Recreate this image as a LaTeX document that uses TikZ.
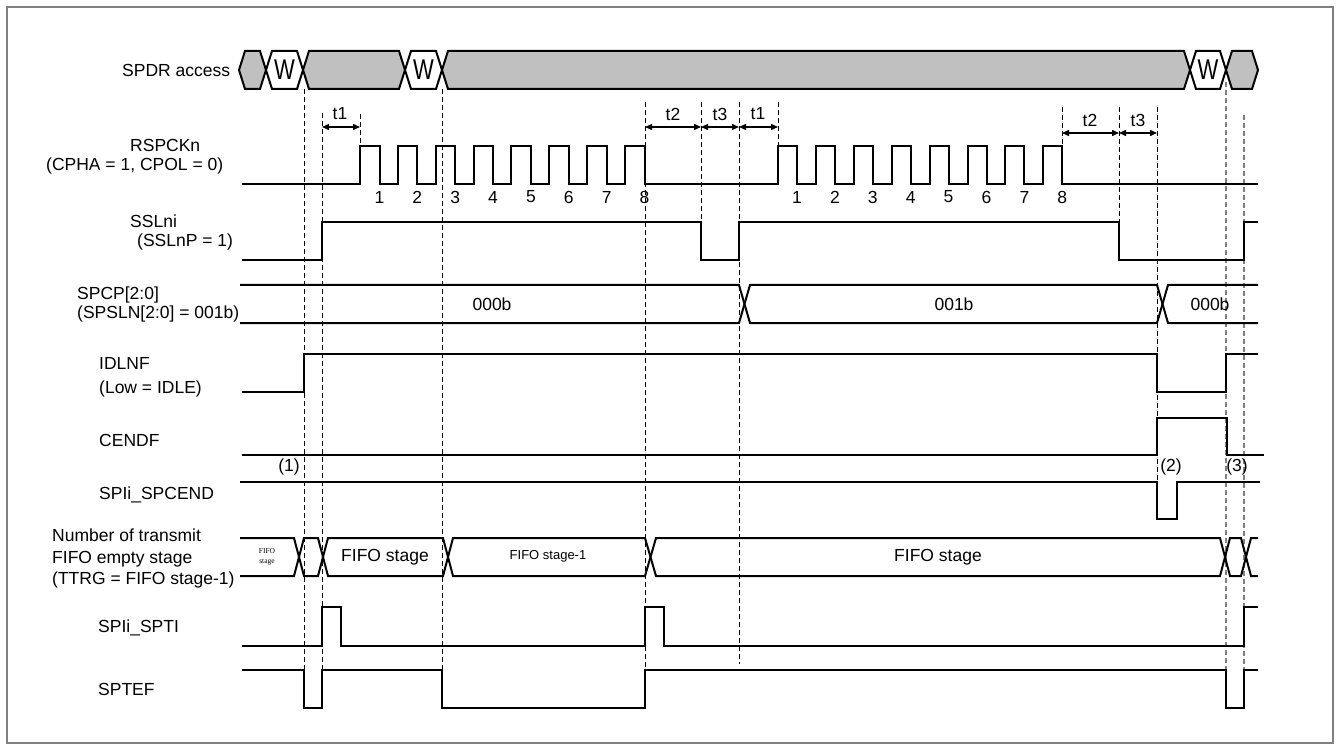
\documentclass[tikz,border=0pt]{standalone}
\usepackage{fontspec}
\setmainfont{Liberation Sans}
\newfontfamily\tinyserif{Liberation Serif}
\usetikzlibrary{arrows.meta}
\definecolor{busgray}{RGB}{192,192,192}
\definecolor{framegray}{RGB}{128,128,128}
% hexagon bus segment: left x, right x, top y, bottom y, slant, fill
\newcommand\tdhex[6]{\filldraw[sig,fill=#6] (#1,{(#3+#4)/2}) -- ({#1+#5},#3) -- ({#2-#5},#3) -- (#2,{(#3+#4)/2}) -- ({#2-#5},#4) -- ({#1+#5},#4) -- cycle;}
\begin{document}
\begin{tikzpicture}[x=1pt,y=-1pt,
  sig/.style={line width=2pt, line join=miter},
  guide/.style={line width=0.9pt, dash pattern=on 5pt off 3pt},
  gguide/.style={guide, draw=framegray, line width=1.1pt},
  tarrow/.style={line width=1.4pt, {Triangle[length=7pt,width=6pt]}-{Triangle[length=7pt,width=6pt]}},
  lbl/.style={font=\fontsize{17.5}{21}\selectfont, inner sep=0pt, anchor=base west},
  ctr/.style={font=\fontsize{17.5}{21}\selectfont, inner sep=0pt},
]
\useasboundingbox (0,0) rectangle (1341,751);
\draw[framegray, line width=1.2pt] (7,7) rectangle (1333,743);

% ---------- guide lines ----------
\draw[guide] (304,89) -- (304,670);
\draw[guide] (322,113) -- (322,670);
\draw[guide] (360,114) -- (360,146);
\draw[guide] (442,89) -- (442,670);
\draw[guide] (645,102) -- (645,670);
\draw[guide] (701,102) -- (701,222);
\draw[guide] (739,102) -- (739,664);
\draw[guide] (778,102) -- (778,146);
\draw[guide] (1062,107) -- (1062,146);
\draw[guide] (1119,107) -- (1119,222);
\draw[guide] (1157,107) -- (1157,482);
\draw[gguide] (1226,82) -- (1226,670);
\draw[gguide] (1244,115) -- (1244,670);

% ---------- labels ----------
\node[lbl] (lspdr) at (122,76.3) {SPDR access};
\node[lbl] (lrsp) at (130,151.3) {RSPCKn};
\node[lbl] (lcpha) at (46,170.3) {(CPHA = 1, CPOL = 0)};
\node[lbl] (lssl) at (130,227.3) {SSLni};
\node[lbl] (lsslp) at (137,246.3) {(SSLnP = 1)};
\node[lbl] (lspcp) at (77,299.3) {SPCP[2:0]};
\node[lbl] (lspsln) at (77,318.3) {(SPSLN[2:0] = 001b)};
\node[lbl] (lidl) at (99,369.3) {IDLNF};
\node[lbl] (llow) at (99,393.3) {(Low = IDLE)};
\node[lbl] (lcend) at (99,446.3) {CENDF};
\node[lbl] (lspcend) at (99,499.3) {SPIi\_SPCEND};
\node[lbl] (lnum) at (52,541.3) {Number of transmit};
\node[lbl] (lfifo) at (52,563.3) {FIFO empty stage};
\node[lbl] (lttrg) at (52,584.3) {(TTRG = FIFO stage-1)};
\node[lbl] (lspti) at (98,632.3) {SPIi\_SPTI};
\node[lbl] (lsptef) at (98,695.3) {SPTEF};

% ---------- SPDR access ----------
\tdhex{239}{266}{51}{89}{6}{busgray}
\tdhex{266}{303}{51}{89}{6}{white}
\tdhex{303}{405}{51}{89}{6}{busgray}
\tdhex{405}{442}{51}{89}{6}{white}
\tdhex{442}{1190}{51}{89}{6}{busgray}
\tdhex{1190}{1226}{51}{89}{6}{white}
\tdhex{1226}{1258}{51}{89}{6}{busgray}
\foreach \x/\n in {284.5/w1,423.5/w2,1208/w3}
  \node[inner sep=0pt, font=\fontsize{22}{24}\selectfont] (\n) at (\x,70) {\scalebox{1}[1.3]{W}};

% ---------- time annotations ----------
\draw[tarrow] (322,127) -- (360,127);
\draw[tarrow] (645,127) -- (701,127);
\draw[tarrow] (701,127) -- (739,127);
\draw[tarrow] (739,127) -- (778,127);
\draw[tarrow] (1062,133) -- (1119,133);
\draw[tarrow] (1119,133) -- (1157,133);
\node[ctr] (ta1) at (340,114) {t1};
\node[ctr] (ta2) at (673,114) {t2};
\node[ctr] (ta3) at (720,114) {t3};
\node[ctr] (ta4) at (758,114) {t1};
\node[ctr] (ta5) at (1090,120) {t2};
\node[ctr] (ta6) at (1138,120) {t3};

% ---------- RSPCKn ----------
\draw[sig] (242,184)
  foreach \i in {0,...,7} { -- ({360+37.86*\i},184) -- ({360+37.86*\i},146) -- ({379.5+37.86*\i},146) -- ({379.5+37.86*\i},184) }
  foreach \i in {0,...,7} { -- ({778+37.9*\i},184) -- ({778+37.9*\i},146) -- ({797+37.9*\i},146) -- ({797+37.9*\i},184) }
  -- (1258,184);
\foreach \i in {1,...,8} {
  \node[ctr] (ca\i) at ({379.5+37.86*(\i-1)},197) {\i};
  \node[ctr] (cb\i) at ({797+37.9*(\i-1)},197) {\i};
}

% ---------- SSLni ----------
\draw[sig] (242,260) -- (322,260) -- (322,222) -- (701,222) -- (701,260) -- (739,260) -- (739,222)
  -- (1119,222) -- (1119,260) -- (1244,260) -- (1244,222) -- (1258,222);

% ---------- SPCP ----------
\draw[sig] (240,285) -- (739,285) -- (750,323) -- (1157,323) -- (1168,285) -- (1258,285);
\draw[sig] (240,323) -- (739,323) -- (750,285) -- (1157,285) -- (1168,323) -- (1258,323);
\node[ctr] (p0) at (492,304) {000b};
\node[ctr] (p1) at (954,304) {001b};
\node[ctr] (p2) at (1210,304) {000b};

% ---------- IDLNF ----------
\draw[sig] (242,392) -- (304,392) -- (304,354) -- (1157,354) -- (1157,392) -- (1226,392) -- (1226,354) -- (1258,354);

% ---------- CENDF ----------
\draw[sig] (242,455) -- (1157,455) -- (1157,418) -- (1227,418) -- (1227,455) -- (1264,455);
\node[ctr] (m1) at (289,467) {(1)};
\node[ctr] (m2) at (1171,467) {(2)};
\node[ctr] (m3) at (1237,467) {(3)};

% ---------- SPIi_SPCEND ----------
\draw[sig] (240,482) -- (1157,482) -- (1157,519) -- (1177,519) -- (1177,482) -- (1260,482);

% ---------- FIFO empty stage ----------
\draw[sig] (240,538) -- (294,538) -- (304,576) -- (318,576) -- (328,538) -- (443,538) -- (453,576)
  -- (645,576) -- (656,538) -- (1220,538) -- (1230,576) -- (1241,576) -- (1251,538) -- (1258,538);
\draw[sig] (240,576) -- (294,576) -- (304,538) -- (318,538) -- (328,576) -- (443,576) -- (453,538)
  -- (645,538) -- (656,576) -- (1220,576) -- (1230,538) -- (1241,538) -- (1251,576) -- (1258,576);
\node[inner sep=0pt, align=center, font=\tinyserif\fontsize{7.5}{10}\selectfont] (f0) at (267,557) {FIFO\\stage};
\node[ctr] (f1) at (385,557) {FIFO stage};
\node[inner sep=0pt, font=\fontsize{13}{15}\selectfont] (f2) at (548,556) {FIFO stage-1};
\node[ctr] (f3) at (938,557) {FIFO stage};

% ---------- SPIi_SPTI ----------
\draw[sig] (242,646) -- (322,646) -- (322,607) -- (341,607) -- (341,646) -- (645,646) -- (645,607)
  -- (664,607) -- (664,646) -- (1244,646) -- (1244,607) -- (1258,607);

% ---------- SPTEF ----------
\draw[sig] (242,670) -- (304,670) -- (304,708) -- (322,708) -- (322,670) -- (442,670) -- (442,708)
  -- (645,708) -- (645,670) -- (1226,670) -- (1226,708) -- (1244,708) -- (1244,670) -- (1258,670);
\end{tikzpicture}
\end{document}
